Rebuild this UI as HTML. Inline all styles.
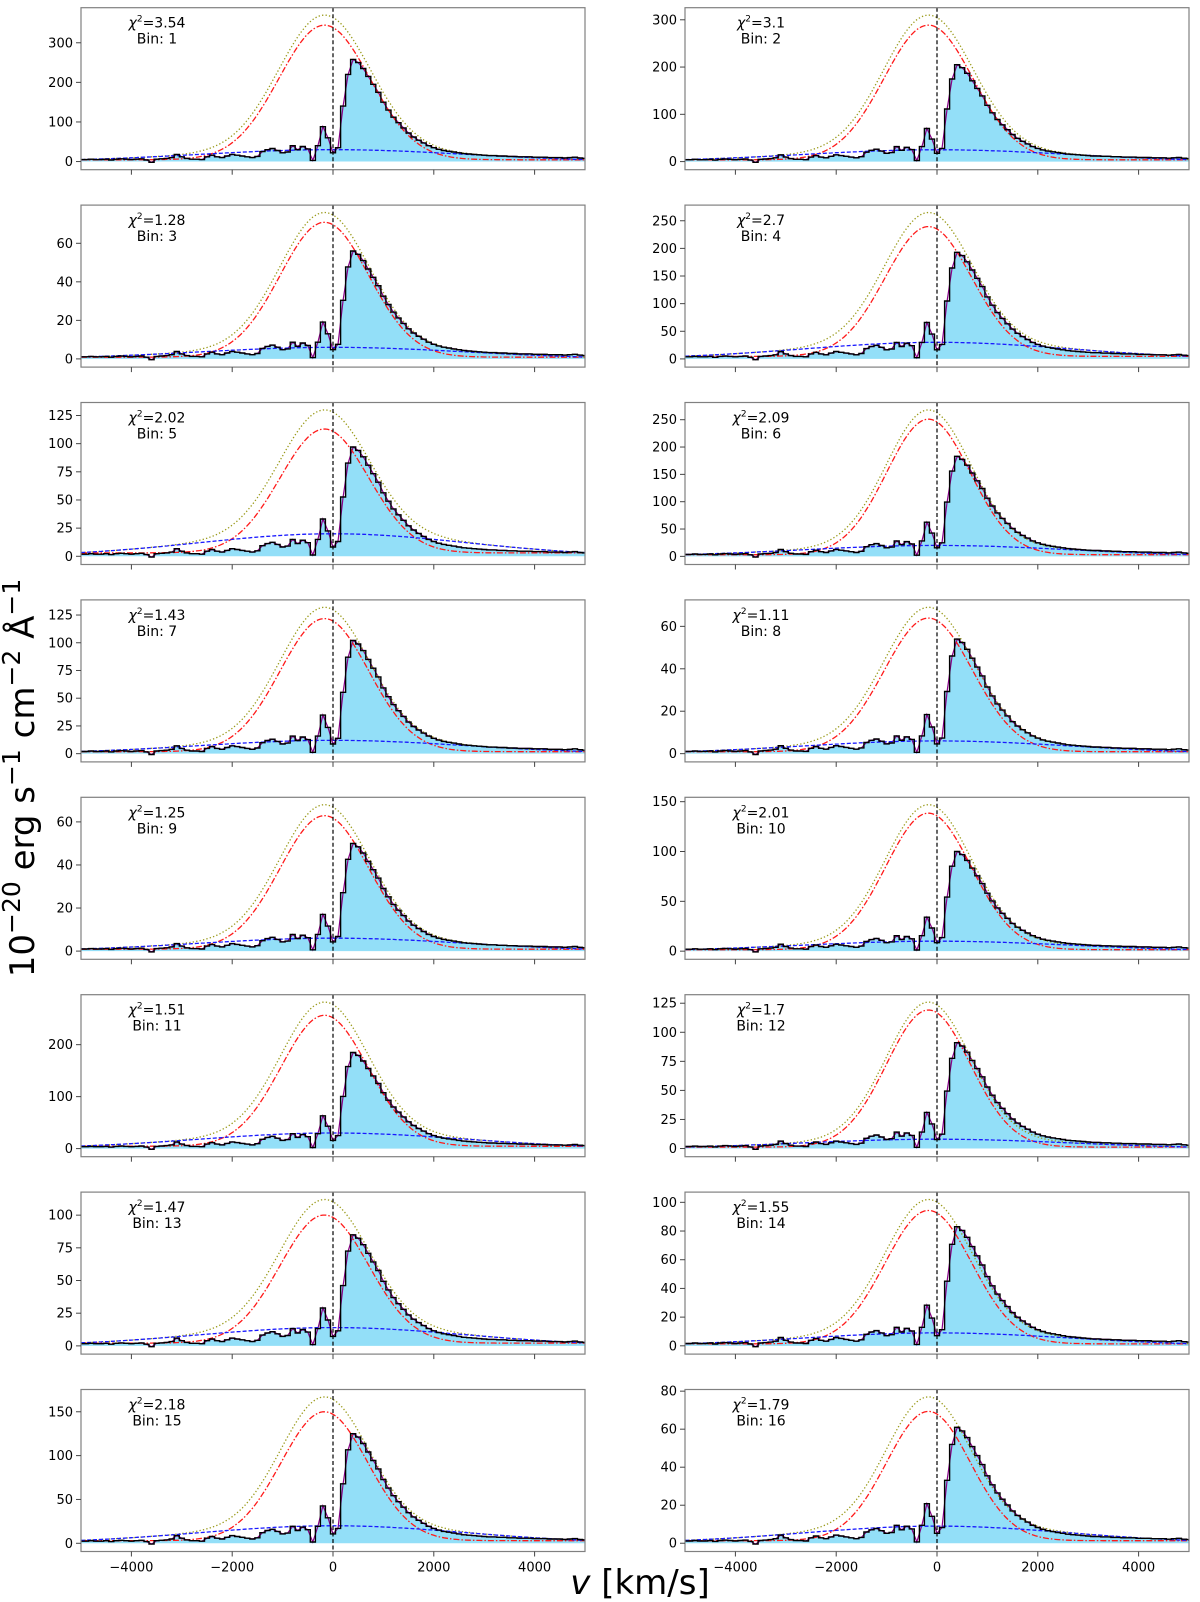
<!DOCTYPE html>
<html><head><meta charset="utf-8">
<style>
html,body{margin:0;padding:0;background:#fff;}
svg{display:block;font-family:"DejaVu Sans","Liberation Sans",sans-serif;}
</style></head>
<body>
<svg id="fig" width="1200" height="1602" viewBox="0 0 1200 1602" xmlns="http://www.w3.org/2000/svg">
<text transform="translate(34,778) rotate(-90)" text-anchor="middle" font-size="34" fill="#000">10<tspan dy="-14" font-size="25">−20</tspan><tspan dy="14"> erg s</tspan><tspan dy="-14" font-size="25">−1</tspan><tspan dy="14"> cm</tspan><tspan dy="-14" font-size="25">−2</tspan><tspan dy="14"> Å</tspan><tspan dy="-14" font-size="25">−1</tspan></text>
<text x="640" y="1594" text-anchor="middle" font-size="34" fill="#000"><tspan font-style="italic">v</tspan> [km/s]</text>
</svg>
<script>
// Shared observed line-profile template (panel 1 flux, 100 km/s bins from -5000 to 5000)
const velocities = [];
for (let v = -5000; v <= 5000; v += 100) velocities.push(v);
const templateFlux = [
 5,5,6,5,5,6,4,6,7,6,
 5,6,7,4,-2,6,7,8,10,18,
 12,8,6,6,5,12,16,12,10,14,
 18,16,14,12,10,13,25,30,33,28,
 22,24,40,30,38,32,3,40,88,60,
 22,35,140,220,258,250,235,215,195,175,
 150,130,112,98,85,72,62,54,47,40,
 35,31,28,26,24,22,20,19,18,17,
 16,15,15,14,14,13,13,12,12,12,
 11,11,11,10,10,10,9,10,11,9,8];
const templatePeak = 258;
// Per-panel values
const binLabels = [1,2,3,4,5,6,7,8,9,10,11,12,13,14,15,16];
const chi2Values = ["3.54","3.1","1.28","2.7","2.02","2.09","1.43","1.11","1.25","2.01","1.51","1.7","1.47","1.55","2.18","1.79"];
const obsPeaks = [258,205,56,193,97,183,102,54,50,100,185,91,85,83,125,61];
const redAmps = [340,285,70,235,110,248,120,63,62,137,252,118,98,93,147,68];
const blueAmps = [30,25,6,30,20,20,12,6,6,10,30,8,14,9,20,9];
const redCenters = [-170,-170,-170,-170,-170,-170,-170,-170,-170,-170,-170,-170,-170,-170,-170,-170];
const redSigmas = [900,880,880,860,880,830,880,880,880,850,860,830,880,860,860,830];
const blueSigmas = [2640,2640,2640,2640,2640,2640,2640,2640,2640,2640,2640,2640,2640,2640,2640,2640];
const yTicks = [[0,100,200,300],[0,100,200,300],[0,20,40,60],[0,50,100,150,200,250],
 [0,25,50,75,100,125],[0,50,100,150,200,250],[0,25,50,75,100,125],[0,20,40,60],
 [0,20,40,60],[0,50,100,150],[0,100,200],[0,25,50,75,100,125],
 [0,25,50,75,100],[0,20,40,60,80,100],[0,50,100,150],[0,20,40,60,80]];
const xTicks = [-4000,-2000,0,2000,4000];
const xTickLabels = ["−4000","−2000","0","2000","4000"];

const NS = "http://www.w3.org/2000/svg";
const svg = document.getElementById('fig');
function mk(tag, attrs, parent){
  const e = document.createElementNS(NS, tag);
  for (const k in attrs) e.setAttribute(k, attrs[k]);
  (parent||svg).appendChild(e);
  return e;
}
const colX = [81, 685], axW = 504, rowTop = 7.7, pitch = 197.4, axH = 162;

for (let p = 0; p < 16; p++) {
  const col = p % 2, row = Math.floor(p / 2);
  const x0 = colX[col], y0 = rowTop + row * pitch;
  const g = mk('g', {});
  
  
  const scale = obsPeaks[p] / templatePeak;
  const data = templateFlux.map(f => f * scale);
  const base = blueAmps[p] * 0.15;
  const blue = v => blueAmps[p] * Math.exp(-v*v/(2*blueSigmas[p]*blueSigmas[p]));
  const red = v => redAmps[p] * Math.exp(-(v-redCenters[p])*(v-redCenters[p])/(2*redSigmas[p]*redSigmas[p])) + base;
  const yel = v => red(v) + blue(v) - base;
  let dmin = Math.min(0, ...data), dmax = Math.max(...data, redAmps[p] + blueAmps[p]);
  const rng = dmax - dmin;
  const ylo = dmin - 0.05*rng, yhi = dmax + 0.05*rng;
  const X = v => x0 + (v + 5000) / 10000 * axW;
  const Y = f => y0 + axH - (f - ylo) / (yhi - ylo) * axH;
  const clipId = 'clip' + p;
  const cp = mk('clipPath', {id: clipId}, g);
  mk('rect', {x: x0, y: y0, width: axW, height: axH}, cp);
  const inner = mk('g', {'clip-path': 'url(#' + clipId + ')'}, g);
  let step = '';
  velocities.forEach((v, i) => {
    const xa = X(Math.max(-5000, v - 50)), xb = X(Math.min(5000, v + 50)), y = Y(data[i]).toFixed(1);
    step += (i === 0 ? 'M' : 'L') + xa.toFixed(1) + ',' + y + 'L' + xb.toFixed(1) + ',' + y;
  });
  const fill = mk('path', {d: step + 'L' + X(5000) + ',' + Y(0) + 'L' + X(-5000) + ',' + Y(0) + 'Z', fill: '#93dff8', stroke: 'none'}, inner);
  
  
  let line = '', bl = '', rd = '', yl = '';
  for (let v = -5000; v <= 5000; v += 50) {
    const c = v === -5000 ? 'M' : 'L';
    bl += c + X(v).toFixed(1) + ',' + Y(blue(v)).toFixed(1);
    rd += c + X(v).toFixed(1) + ',' + Y(red(v)).toFixed(1);
    yl += c + X(v).toFixed(1) + ',' + Y(yel(v)).toFixed(1);
  }
  velocities.forEach((v, i) => { line += (i ? 'L' : 'M') + X(v).toFixed(1) + ',' + Y(data[i]).toFixed(1); });
  const fit = mk('path', {d: line, fill: 'none', stroke: '#8b008b', 'stroke-width': 1.2}, inner);
  
  
  const yp = mk('path', {d: yl, fill: 'none', stroke: '#9a9a1a', 'stroke-width': 1.3, 'stroke-dasharray': '1.3,2.2'}, inner);
  
  
  const rp = mk('path', {d: rd, fill: 'none', stroke: '#ff1a1a', 'stroke-width': 1.3, 'stroke-dasharray': '6,2,1.5,2'}, inner);
  
  
  const bp = mk('path', {d: bl, fill: 'none', stroke: '#1a1aff', 'stroke-width': 1.3, 'stroke-dasharray': '4,2'}, inner);
  
  
  const sp = mk('path', {d: step, fill: 'none', stroke: '#000', 'stroke-width': 1.4}, inner);
  
  
  const zl = mk('line', {x1: X(0), x2: X(0), y1: y0, y2: y0 + axH, stroke: '#000', 'stroke-width': 1.2, 'stroke-dasharray': '4,2.5'}, inner);
  
  
  const fr = mk('rect', {x: x0, y: y0, width: axW, height: axH, fill: 'none', stroke: '#808080', 'stroke-width': 1.2}, g);
  
  
  yTicks[p].forEach(t => {
    const yy = Y(t);
    const tk = mk('line', {x1: x0 - 5, x2: x0, y1: yy, y2: yy, stroke: '#444', 'stroke-width': 1}, g);
    
    
    const tl = mk('text', {x: x0 - 8, y: yy + 4.5, 'text-anchor': 'end', 'font-size': 13, fill: '#000'}, g);
    
    
    tl.textContent = t;
  });
  xTicks.forEach((t, i) => {
    const xx = X(t);
    const tk = mk('line', {x1: xx, x2: xx, y1: y0 + axH, y2: y0 + axH + 5, stroke: '#444', 'stroke-width': 1}, g);
    
    
    if (row === 7) {
      const tl = mk('text', {x: xx, y: y0 + axH + 20, 'text-anchor': 'middle', 'font-size': 13, fill: '#000'}, g);
      
      
      tl.textContent = xTickLabels[i];
    }
  });
  const ct = mk('text', {x: x0 + 76, y: y0 + 20, 'text-anchor': 'middle', 'font-size': 14, fill: '#000'}, g);
  
  
  ct.innerHTML = '<tspan font-style="italic">χ</tspan><tspan dy="-6" font-size="9">2</tspan><tspan dy="6">=' + chi2Values[p] + '</tspan>';
  const bt = mk('text', {x: x0 + 76, y: y0 + 36, 'text-anchor': 'middle', 'font-size': 14, fill: '#000'}, g);
  
  
  bt.textContent = 'Bin: ' + binLabels[p];
}
</script>
</body></html>
